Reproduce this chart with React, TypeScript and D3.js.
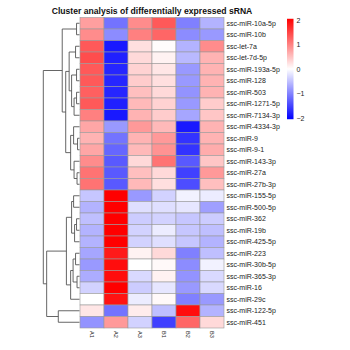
import React from "react";
import * as d3 from "d3";

const title = "Cluster analysis of differentially expressed sRNA";

const rowLabels = [
  "ssc-miR-10a-5p", "ssc-miR-10b", "ssc-let-7a", "ssc-let-7d-5p", "ssc-miR-193a-5p",
  "ssc-miR-128", "ssc-miR-503", "ssc-miR-1271-5p", "ssc-miR-7134-3p", "ssc-miR-4334-3p",
  "ssc-miR-9", "ssc-miR-9-1", "ssc-miR-143-3p", "ssc-miR-27a", "ssc-miR-27b-3p",
  "ssc-miR-155-5p", "ssc-miR-500-5p", "ssc-miR-362", "ssc-miR-19b", "ssc-miR-425-5p",
  "ssc-miR-223", "ssc-miR-30b-5p", "ssc-miR-365-3p", "ssc-miR-16", "ssc-miR-29c",
  "ssc-miR-122-5p", "ssc-miR-451",
];

const colLabels = ["A1", "A2", "A3", "B1", "B2", "B3"];

// z-scores per row (6 samples)
const values: number[][] = [
  [0.75, -1.1, 0.9, 1.3, -1.0, -0.6],
  [0.9, -0.9, 1.0, 1.2, -0.9, -0.8],
  [1.3, -1.8, 0.25, 0.02, -0.6, 0.9],
  [1.4, -1.75, 0.3, 0.1, -0.55, 0.6],
  [1.3, -1.7, 0.35, 0.2, -0.8, 0.6],
  [1.3, -1.7, 0.4, 0.25, -0.8, 0.6],
  [1.25, -1.7, 0.5, 0.3, -0.85, 0.6],
  [1.3, -1.75, 0.55, 0.35, -0.8, 0.4],
  [1.0, -1.8, 0.6, 0.4, -0.7, 0.45],
  [0.7, -0.8, 0.8, 0.55, -1.8, 0.6],
  [0.6, -1.1, 0.6, 0.8, -1.6, 0.6],
  [0.7, -1.2, 0.55, 0.85, -1.6, 0.65],
  [0.9, -1.3, 0.3, 1.1, -1.3, 0.45],
  [1.1, -1.3, 0.5, 0.3, -1.5, 0.8],
  [1.1, -1.3, 0.55, 0.25, -1.4, 0.5],
  [-0.45, 2.0, -0.8, -0.35, -0.1, -0.15],
  [-0.6, 2.0, -0.25, -0.25, -0.2, -0.75],
  [-0.5, 2.0, -0.4, -0.35, -0.45, -0.4],
  [-0.6, 2.0, -0.35, -0.15, -0.45, -0.5],
  [-0.6, 2.0, -0.35, -0.25, -0.45, -0.6],
  [-0.7, 1.8, 0.1, 0.3, -1.0, -0.5],
  [-0.8, 1.9, 0.0, 0.05, -0.9, -0.1],
  [-0.65, 1.9, -0.3, 0.1, -0.85, -0.3],
  [-0.35, 2.0, -0.4, -0.2, -0.8, -0.3],
  [0.0, 1.85, -0.15, 0.05, -1.0, -0.8],
  [0.2, -1.1, 0.15, -0.5, 1.9, -0.6],
  [-0.85, 0.8, -0.35, -1.5, 1.2, 0.3],
];

const legendTicks = [2, 1, 0, -1, -2];

// hclust-style merges: negative = leaf -(index+1), positive = earlier merge (1-based)
const merges: [number, number, number][] = [
  [-1, -2, 0.82],
  [-3, -4, 1.09],
  [-5, -6, 0.82],
  [-7, -8, 0.82],
  [4, -9, 1.5],
  [3, 5, 2.18],
  [2, 6, 2.86],
  [-11, -12, 0.54],
  [-10, 8, 1.63],
  [-14, -15, 0.68],
  [-13, 10, 1.5],
  [9, 11, 2.45],
  [7, 12, 3.81],
  [1, 13, 4.77],
  [-16, -17, 1.63],
  [-18, -19, 0.82],
  [16, -20, 1.36],
  [15, 17, 2.18],
  [-21, -22, 1.09],
  [-23, -24, 0.68],
  [19, 20, 1.77],
  [21, -25, 2.45],
  [18, 22, 3.62],
  [-26, -27, 5.86],
  [23, 24, 9.07],
  [14, 25, 10],
];

const FONT = "'Liberation Sans', Arial, Helvetica, sans-serif";

export default function App() {
  const left = 80, right = 224, top = 17.5, bottom = 328;
  const x = d3.scaleBand<number>().domain(d3.range(colLabels.length)).range([left, right]);
  const y = d3.scaleBand<number>().domain(d3.range(rowLabels.length)).range([top, bottom]);
  const color = d3.scaleLinear<string>().domain([-2, 0, 2]).range(["#0000ff", "#ffffff", "#ff0000"]);
  const maxH = d3.max(merges, (m) => m[2]) as number;
  const hx = d3.scaleLinear().domain([0, maxH]).range([79.5, 43.3]);

  // dendrogram layout
  const nodeY: number[] = [];
  const nodeH: number[] = [];
  const lines: { x1: number; y1: number; x2: number; y2: number }[] = [];
  const getY = (id: number) => (id < 0 ? (y(-id - 1) as number) + y.bandwidth() / 2 : nodeY[id - 1]);
  const getH = (id: number) => (id < 0 ? 0 : nodeH[id - 1]);
  merges.forEach(([a, b, h], i) => {
    const ya = getY(a), yb = getY(b);
    nodeY[i] = (ya + yb) / 2;
    nodeH[i] = h;
    const xn = hx(h);
    lines.push({ x1: hx(getH(a)), y1: ya, x2: xn, y2: ya });
    lines.push({ x1: hx(getH(b)), y1: yb, x2: xn, y2: yb });
    lines.push({ x1: xn, y1: ya, x2: xn, y2: yb });
  });

  const ly = d3.scaleLinear().domain([-2, 2]).range([118, 20]);

  return (
    <svg
      width={350}
      height={350}
      style={{ position: "absolute", left: 0, top: 0, background: "#fff" }}
      fontFamily={FONT}
    >
      <text x={(left + right) / 2} y={13.5} textAnchor="middle" fontSize={8.6} fontWeight="bold" fill="#111">
        {title}
      </text>
      <g>
        {values.map((row, i) =>
          row.map((v, j) => (
            <rect
              key={`${i}-${j}`}
              x={x(j)}
              y={y(i)}
              width={x.bandwidth()}
              height={y.bandwidth()}
              fill={color(v)}
              stroke="#999999"
              strokeWidth={0.6}
            />
          ))
        )}
      </g>
      <g stroke="#555" strokeWidth={0.9} fill="none">
        {lines.map((l, i) => (
          <line key={i} x1={l.x1} y1={l.y1} x2={l.x2} y2={l.y2} />
        ))}
      </g>
      <g fontSize={7} fill="#222">
        {rowLabels.map((r, i) => (
          <text key={r} x={right + 2.5} y={(y(i) as number) + y.bandwidth() / 2} dominantBaseline="central">
            {r}
          </text>
        ))}
      </g>
      <g fontSize={5.5} fill="#222">
        {colLabels.map((c, j) => {
          const cx = (x(j) as number) + x.bandwidth() / 2;
          return (
            <text key={c} transform={`translate(${cx},${bottom + 3}) rotate(90)`} dominantBaseline="central">
              {c}
            </text>
          );
        })}
      </g>
      <defs>
        <linearGradient id="lg" x1="0" y1="0" x2="0" y2="1">
          <stop offset="0%" stopColor="#ff0000" />
          <stop offset="50%" stopColor="#ffffff" />
          <stop offset="100%" stopColor="#0000ff" />
        </linearGradient>
      </defs>
      <rect x={287} y={ly(2.05)} width={6.5} height={ly(-2.05) - ly(2.05)} fill="url(#lg)" />
      <g fontSize={7} fill="#222">
        {legendTicks.map((t) => (
          <text key={t} x={296.5} y={ly(t)} dominantBaseline="central">
            {t < 0 ? `\u2212${Math.abs(t)}` : `${t}`}
          </text>
        ))}
      </g>
    </svg>
  );
}
